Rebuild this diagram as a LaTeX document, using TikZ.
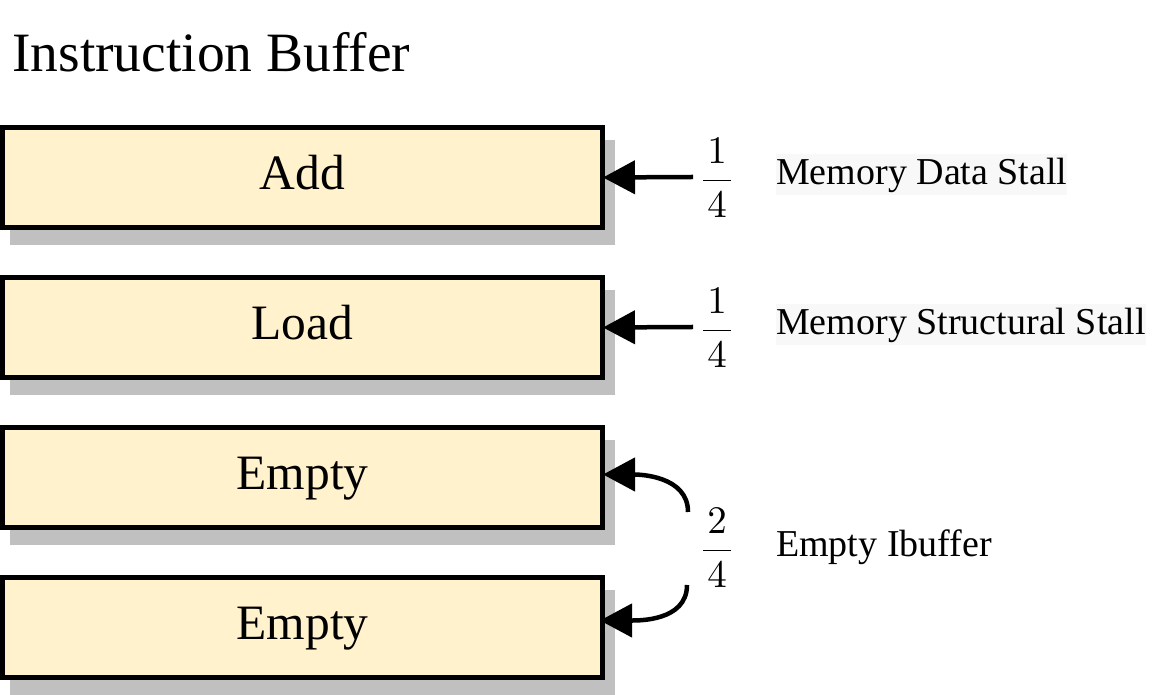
\documentclass[tikz,border=0pt]{standalone}
\usepackage{fontspec}
\setmainfont{Liberation Serif}
\usetikzlibrary{arrows.meta,backgrounds}
\definecolor{boxfill}{HTML}{FFF2CC}
\definecolor{shadowc}{HTML}{C0C0C0}
\definecolor{labelbg}{HTML}{F8F8F8}
\newcommand{\bigfrac}[2]{\scalebox{3.9}{$\displaystyle\frac{\kern1pt#1\kern1pt}{\kern1pt#2\kern1pt}$}}
\begin{document}
\begin{tikzpicture}[x=1pt,y=1pt,
  bufbox/.style={draw=black, line width=5pt, fill=boxfill, minimum width=600pt, minimum height=100pt,
    inner sep=0pt, font=\fontsize{49.5}{58}\selectfont, text height=30pt, text depth=5pt},
  ptr/.style={line width=4.5pt, -{Triangle[length=32pt,width=33pt]}},
  fracnode/.style={inner sep=0pt, font=\normalsize},
  lbl/.style={anchor=base west, inner sep=0pt, font=\fontsize{38}{46}\selectfont},
  lblbg/.style={lbl, fill=labelbg, text height=31pt, text depth=10pt},
  titlenode/.style={anchor=base west, inner sep=0pt, font=\fontsize{55.5}{66}\selectfont}]
\useasboundingbox (0,0) rectangle (1155,695);

\node[titlenode] (t) at (12,623) {Instruction Buffer};

\node[bufbox] (b1) at (302.5,517.5) {Add};
\node[bufbox] (b2) at (302.5,367.5) {Load};
\node[bufbox] (b3) at (302.5,217.5) {Empty};
\node[bufbox] (b4) at (302.5,67.5) {Empty};

\begin{scope}[on background layer]
  \foreach \n in {b1,b2,b3,b4}
    \fill[shadowc] ([shift={(10,-15)}]\n.south west) rectangle ([shift={(10,-15)}]\n.north east);
\end{scope}

\node[fracnode] (f1) at (717,517) {\bigfrac{1}{4}};
\node[fracnode] (f2) at (717,367) {\bigfrac{1}{4}};
\node[fracnode] (f3) at (717,147) {\bigfrac{2}{4}};

\node[lblbg] (l1) at (776,510) {Memory Data Stall};
\node[lblbg] (l2) at (776,360) {Memory Structural Stall};
\node[lbl] (l3) at (776,138) {Empty Ibuffer};

\coordinate (s1) at (693,518);
\coordinate (s2) at (693,368);
\coordinate (s3) at (688,183);
\coordinate (s4) at (687,110);
\draw[ptr] (s1) -- ([xshift=-2pt]b1.east);
\draw[ptr] (s2) -- ([xshift=-2pt]b2.east);
\draw[ptr] (s3) to[out=90,in=0] ([xshift=-2pt,yshift=3pt]b3.east);
\draw[ptr] (s4) to[out=-90,in=0] ([xshift=-5pt,yshift=7pt]b4.east);
\end{tikzpicture}
\end{document}
